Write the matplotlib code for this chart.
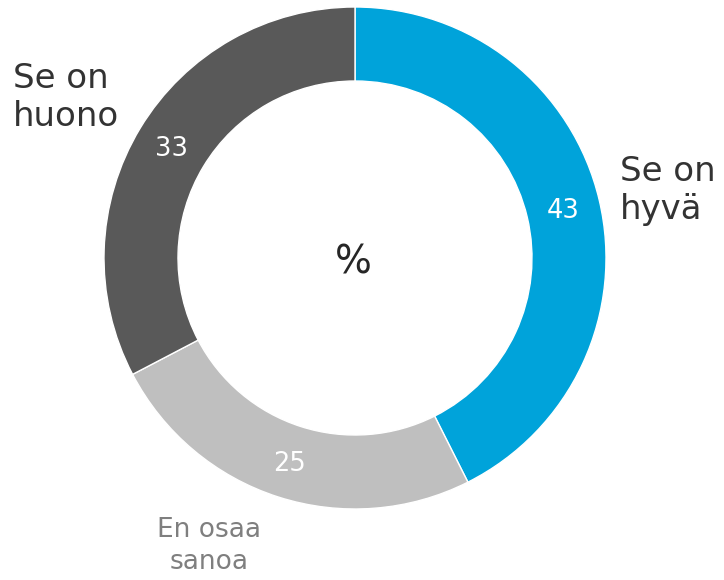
import matplotlib
matplotlib.use("Agg")
import matplotlib.pyplot as plt
import numpy as np

categories = ["Se on\nhyvä", "En osaa\nsanoa", "Se on\nhuono"]
values = [43, 25, 33]
colors = ["#00A3DA", "#BFBFBF", "#595959"]

W, H = 724, 580
fig = plt.figure(figsize=(W / 100, H / 100), dpi=100)
ax = fig.add_axes([0, 0, 1, 1])

cx, cy = 355, H - 258
R = 251
width = 74

wedges, _ = ax.pie(values, colors=colors, startangle=90, counterclock=False,
                   radius=R, center=(cx, cy), frame=True,
                   wedgeprops=dict(width=width, edgecolor="white", linewidth=1))
ax.set_xlim(0, W)
ax.set_ylim(0, H)
ax.set_aspect("equal")
ax.axis("off")

rm = R - width / 2
for w, v in zip(wedges, values):
    ang = np.deg2rad((w.theta1 + w.theta2) / 2)
    ax.text(cx + rm * np.cos(ang), cy + rm * np.sin(ang) - 2, str(v),
            color="white", fontsize=18.5, ha="center", va="center")

ax.text(cx - 2, H - 262, "%", fontsize=28, color="#262626", ha="center", va="center")

ax.text(620, H - 155, categories[0], fontsize=24.5, color="#333333",
        ha="left", va="top", linespacing=1.2)
ax.text(13, H - 62, categories[2], fontsize=24.5, color="#333333",
        ha="left", va="top", linespacing=1.2)
ax.text(209, H - 517, categories[1], fontsize=19, color="#7F7F7F",
        ha="center", va="top", linespacing=1.3)

fig.savefig("out.png", dpi=100)
